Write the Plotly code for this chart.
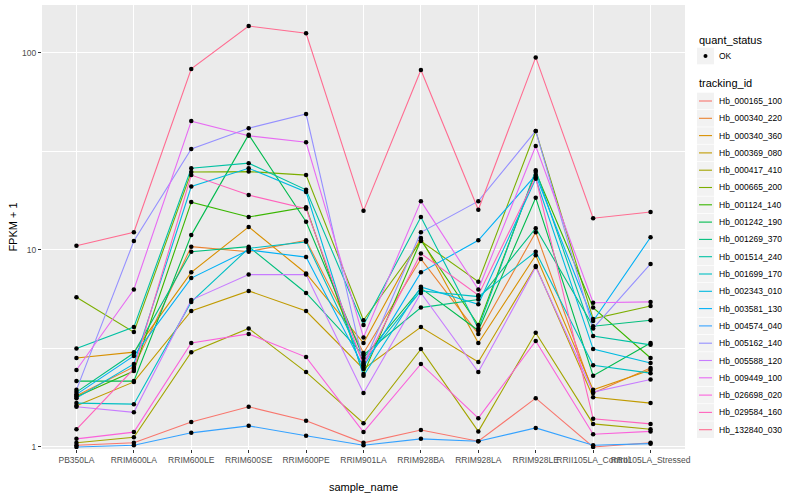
import plotly.graph_objects as go

samples = ["PB350LA", "RRIM600LA", "RRIM600LE", "RRIM600SE", "RRIM600PE", "RRIM901LA",
           "RRIM928BA", "RRIM928LA", "RRIM928LE", "RRII105LA_Control", "RRII105LA_Stressed"]

tracking_ids = ["Hb_000165_100", "Hb_000340_220", "Hb_000340_360", "Hb_000369_080",
                "Hb_000417_410", "Hb_000665_200", "Hb_001124_140", "Hb_001242_190",
                "Hb_001269_370", "Hb_001514_240", "Hb_001699_170", "Hb_002343_010",
                "Hb_003581_130", "Hb_004574_040", "Hb_005162_140", "Hb_005588_120",
                "Hb_009449_100", "Hb_026698_020", "Hb_029584_160", "Hb_132840_030"]

colors = ["#F8766D", "#EA8331", "#D89000", "#C09B00", "#A3A500", "#7CAE00", "#39B600",
          "#00BB4E", "#00BF7D", "#00C1A3", "#00BFC4", "#00BAE0", "#00B0F6", "#35A2FF",
          "#9590FF", "#C77CFF", "#E76BF3", "#FA62DB", "#FF62BC", "#FF6C91"]

# FPKM + 1 per tracking_id, in sample order
hb_000165_100 = [1.02, 1.05, 1.34, 1.60, 1.36, 1.05, 1.22, 1.07, 1.77, 1.00, 1.05]
hb_000340_220 = [1.82, 2.55, 10.4, 9.8, 11.2, 3.0, 9.0, 3.75, 12.3, 1.88, 2.52]
hb_000340_360 = [2.83, 3.03, 7.7, 13.1, 7.6, 3.37, 11.5, 3.37, 9.4, 1.95, 2.46]
hb_000369_080 = [1.62, 2.14, 4.9, 6.2, 4.9, 2.49, 4.06, 2.7, 8.3, 1.79, 1.67]
hb_000417_410 = [1.05, 1.12, 3.03, 4.0, 2.4, 1.32, 3.14, 1.2, 3.8, 1.31, 1.23]
hb_000665_200 = [5.76, 3.83, 24.9, 25.0, 24.0, 4.4, 11.1, 6.9, 40.2, 4.47, 5.2]
hb_001124_140 = [1.80, 2.43, 17.5, 14.7, 16.5, 2.35, 11.2, 4.16, 24.9, 5.1, 2.83]
hb_001242_190 = [2.16, 2.16, 11.9, 38.5, 13.9, 2.83, 6.4, 3.9, 18.4, 2.3, 3.37]
hb_001269_370 = [1.90, 3.0, 9.8, 10.4, 6.05, 2.93, 5.1, 5.6, 12.9, 4.1, 4.4]
hb_001514_240 = [3.16, 4.06, 26.0, 27.6, 20.2, 4.16, 14.7, 4.0, 25.4, 3.66, 3.3]
hb_001699_170 = [1.67, 1.65, 5.45, 10.2, 11.0, 2.7, 6.2, 5.8, 9.8, 2.6, 2.37]
hb_002343_010 = [1.77, 2.64, 21.0, 26.0, 19.7, 2.3, 6.5, 5.3, 23.0, 3.14, 2.67]
hb_003581_130 = [1.85, 2.9, 7.2, 10.0, 9.2, 2.55, 7.7, 11.2, 24.0, 4.36, 11.6]
hb_004574_040 = [1.00, 1.02, 1.18, 1.28, 1.14, 1.02, 1.10, 1.07, 1.25, 1.02, 1.04]
hb_005162_140 = [1.95, 11.1, 32.6, 41.5, 49.0, 2.64, 12.3, 17.7, 40.2, 4.0, 8.5]
hb_005588_120 = [1.60, 1.50, 5.57, 7.5, 7.5, 1.88, 6.05, 2.4, 8.2, 1.9, 2.2]
hb_009449_100 = [2.46, 6.3, 45.1, 38.0, 35.2, 3.6, 17.7, 6.3, 33.7, 5.4, 5.45]
hb_026698_020 = [1.10, 1.19, 3.37, 3.75, 2.86, 1.19, 2.64, 1.4, 3.45, 1.16, 1.2]
hb_029584_160 = [1.23, 2.49, 24.0, 19.0, 16.2, 2.6, 9.6, 5.9, 23.4, 1.39, 1.31]
hb_132840_030 = [10.5, 12.3, 83.0, 137.0, 126.0, 15.8, 82.0, 16.0, 95.0, 14.5, 15.6]

series = [hb_000165_100, hb_000340_220, hb_000340_360, hb_000369_080, hb_000417_410,
          hb_000665_200, hb_001124_140, hb_001242_190, hb_001269_370, hb_001514_240,
          hb_001699_170, hb_002343_010, hb_003581_130, hb_004574_040, hb_005162_140,
          hb_005588_120, hb_009449_100, hb_026698_020, hb_029584_160, hb_132840_030]

FONT = "Liberation Sans, Arial, sans-serif"
W, H = 800, 500
ML, MR, MT, MB = 42, 115, 5, 51
PW, PH = W - ML - MR, H - MT - MB


def px(x):
    return (x - ML) / PW


def py(y):
    return (H - MB - y) / PH


fig = go.Figure()

for name, vals, col in zip(tracking_ids, series, colors):
    fig.add_trace(go.Scatter(
        x=samples, y=vals, mode="lines", name=name,
        line=dict(color=col, width=1.1), showlegend=False,
    ))

all_x = [s for vals in series for s in samples]
all_y = [v for vals in series for v in vals]
fig.add_trace(go.Scatter(
    x=all_x, y=all_y, mode="markers", name="OK",
    marker=dict(color="black", size=4.5), showlegend=False,
))

# ---- ggplot-style legend drawn in paper coordinates ----
shapes = []
annotations = []
KX0, KX1 = 697, 714
TX = 717


def title(text, y):
    annotations.append(dict(x=px(KX0), y=py(y), xref="paper", yref="paper", text=text,
                            showarrow=False, xanchor="left", yanchor="middle",
                            font=dict(size=11, color="black", family=FONT)))


def key_box(yc):
    shapes.append(dict(type="rect", xref="paper", yref="paper",
                       x0=px(KX0), x1=px(KX1), y0=py(yc + 8.3), y1=py(yc - 8.3),
                       fillcolor="#F2F2F2", line=dict(width=0), layer="above"))


def label(text, yc):
    annotations.append(dict(x=px(TX), y=py(yc), xref="paper", yref="paper", text=text,
                            showarrow=False, xanchor="left", yanchor="middle",
                            font=dict(size=8.5, color="black", family=FONT)))


title("quant_status", 40)
key_box(56)
shapes.append(dict(type="circle", xref="paper", yref="paper",
                   x0=px(703.5), x1=px(707.5), y0=py(58), y1=py(54),
                   fillcolor="black", line=dict(width=0), layer="above"))
label("OK", 56)

title("tracking_id", 83)
for i, (name, col) in enumerate(zip(tracking_ids, colors)):
    yc = 101 + 17.3 * i
    key_box(yc)
    shapes.append(dict(type="line", xref="paper", yref="paper",
                       x0=px(699), x1=px(712), y0=py(yc), y1=py(yc),
                       line=dict(color=col, width=1.1), layer="above"))
    label(name, yc)

fig.update_layout(
    width=W, height=H,
    margin=dict(l=ML, r=MR, t=MT, b=MB, autoexpand=False),
    paper_bgcolor="white", plot_bgcolor="#EBEBEB",
    font=dict(family=FONT, size=9, color="#4D4D4D"),
    showlegend=False,
    shapes=shapes, annotations=annotations,
)
fig.update_xaxes(
    type="category", categoryorder="array", categoryarray=samples,
    range=[-0.6, 10.6], showgrid=True, gridcolor="white", gridwidth=1.1,
    ticks="outside", ticklen=3, tickcolor="#333333", tickangle=0,
    tickfont=dict(size=8.5, color="#4D4D4D"), zeroline=False, showline=False,
    automargin=False,
    title=dict(text="sample_name", font=dict(size=11, color="black"), standoff=19),
)
fig.update_yaxes(
    type="log", range=[-0.0102, 2.2436],
    tickmode="array", tickvals=[1, 10, 100], ticktext=["1", "10", "100"],
    showgrid=True, gridcolor="white", gridwidth=1.1,
    minor=dict(tickmode="array", tickvals=[10 ** 0.5, 10 ** 1.5], showgrid=True,
               gridcolor="white", gridwidth=0.5, ticks=""),
    ticks="outside", ticklen=3, tickcolor="#333333",
    tickfont=dict(size=8.5, color="#4D4D4D"), zeroline=False, showline=False,
    automargin=False,
    title=dict(text="FPKM + 1", font=dict(size=11, color="black"), standoff=2),
)

fig.write_html("out.html", config={"displayModeBar": False},
               post_script="document.body.style.margin='0';")
